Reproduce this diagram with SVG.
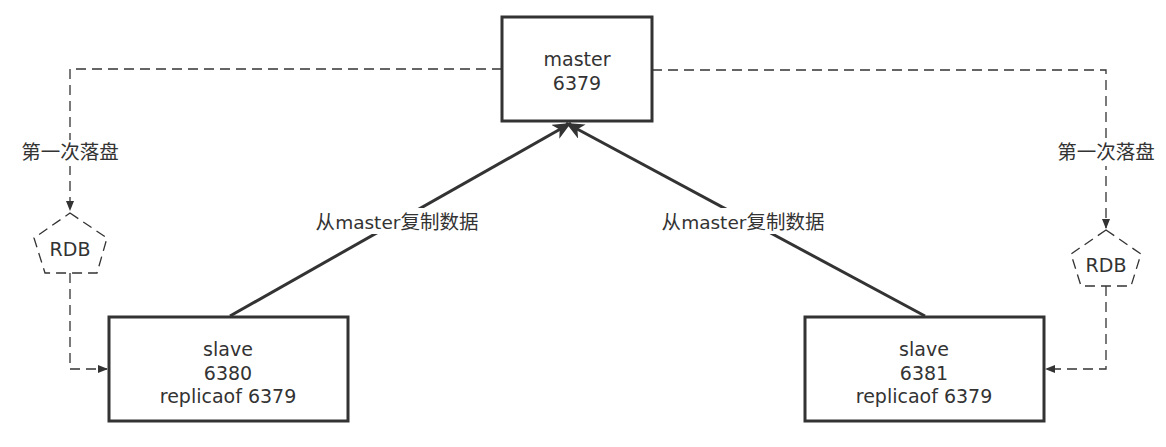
<svg xmlns="http://www.w3.org/2000/svg" width="1166" height="447" viewBox="0 0 1166 447">
<style>
.box{fill:#fff;stroke:#333;stroke-width:3}
.t{font-family:"DejaVu Sans","Noto Sans CJK SC",sans-serif;font-size:19px;fill:#333;text-anchor:middle}
.c{font-family:"Noto Sans CJK SC",sans-serif;font-size:19.5px;fill:#333;text-anchor:middle}
.dash{fill:none;stroke:#333;stroke-width:1.3;stroke-dasharray:10 6}
.solid{fill:none;stroke:#333;stroke-width:3}
</style>
<defs>
<marker id="ah" markerWidth="10" markerHeight="10" refX="9" refY="5" orient="auto" markerUnits="userSpaceOnUse">
<path d="M0,1 L10,5 L0,9 Z" fill="#333"/>
</marker>
<marker id="bh" markerWidth="20" markerHeight="16" refX="18" refY="8" orient="auto" markerUnits="userSpaceOnUse">
<path d="M0,0 L18,8 L0,16 L5,8 Z" fill="#333"/>
</marker>
</defs>
<g id="connectors">
<path class="dash" d="M502,69 H70 V210" marker-end="url(#ah)"/>
<path class="dash" d="M70,273 V369 H107" marker-end="url(#ah)"/>
<path class="dash" d="M652,70 H1106 V228" marker-end="url(#ah)"/>
<path class="dash" d="M1106,286 V369 H1046" marker-end="url(#ah)"/>
<path class="solid" d="M230,316 L571,123" marker-end="url(#bh)"/>
<path class="solid" d="M925,316 L566,123" marker-end="url(#bh)"/>
<rect x="303" y="208" width="190" height="26" fill="#fff"/>
<text class="c" x="397" y="229">从<tspan font-family="DejaVu Sans" font-size="18.5px">master</tspan>复制数据</text>
<rect x="650" y="208" width="190" height="26" fill="#fff"/>
<text class="c" x="743" y="229">从<tspan font-family="DejaVu Sans" font-size="18.5px">master</tspan>复制数据</text>
<rect x="20" y="140" width="100" height="26" fill="#fff"/>
<text class="c" x="70" y="159">第一次落盘</text>
<rect x="1055" y="140" width="102" height="26" fill="#fff"/>
<text class="c" x="1106" y="159">第一次落盘</text>
</g>
<g id="master">
<rect class="box" x="502" y="17" width="150" height="104"/>
<text class="t" x="577" y="66">master</text>
<text class="t" x="577" y="90">6379</text>
</g>
<g id="rdb1">
<polygon class="dash" points="70,213 107,238 97,273 45,273 34,238"/>
<text class="t" x="70" y="256">RDB</text>
</g>
<g id="rdb2">
<polygon class="dash" points="1106,230 1141,254 1131,286 1081,286 1071,254"/>
<text class="t" x="1106" y="272">RDB</text>
</g>
<g id="slave1">
<rect class="box" x="109" y="317" width="239" height="104"/>
<text class="t" x="228" y="356">slave</text>
<text class="t" x="228" y="380">6380</text>
<text class="t" x="228" y="403">replicaof 6379</text>
</g>
<g id="slave2">
<rect class="box" x="805" y="317" width="239" height="104"/>
<text class="t" x="924" y="356">slave</text>
<text class="t" x="924" y="380">6381</text>
<text class="t" x="924" y="403">replicaof 6379</text>
</g>
</svg>
